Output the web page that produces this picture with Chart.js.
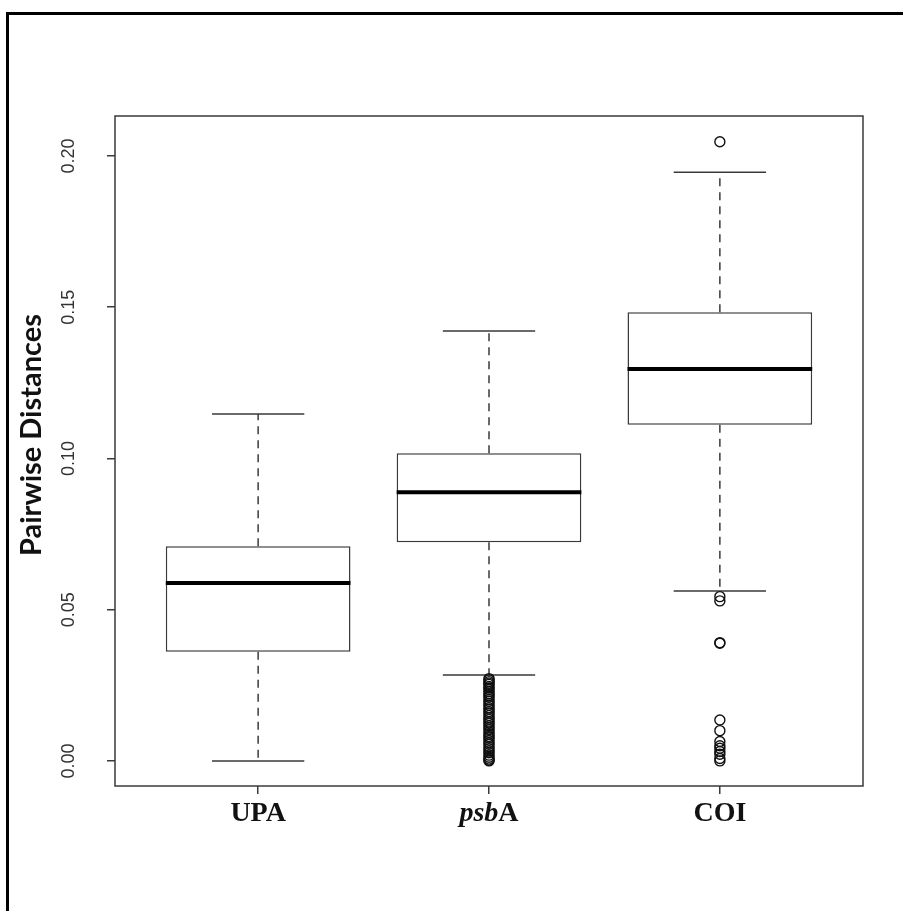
<!DOCTYPE html>
<html>
<head>
<meta charset="utf-8">
<script src="https://cdn.jsdelivr.net/npm/chart.js@4.4.1/dist/chart.umd.min.js"></script>
<style>
html,body{margin:0;padding:0;background:#fff;overflow:hidden;}
#wrap{position:absolute;left:0;top:0;width:903px;height:911px;}
#frame{position:absolute;left:6px;top:12px;width:1000px;height:1000px;border-left:3px solid #000;border-top:3px solid #000;box-sizing:border-box;}
#c{position:absolute;left:0;top:0;}
</style>
</head>
<body>
<div id="wrap"><div id="frame"></div><canvas id="c" width="903" height="911"></canvas></div>
<script>
// ---- data ----
const categories = ['UPA', 'psbA', 'COI'];
const whiskerLow  = [0.0000, 0.0284, 0.0562];
const q1          = [0.0361, 0.0723, 0.1111];
const medians     = [0.0588, 0.0888, 0.1296];
const q3          = [0.0710, 0.1017, 0.1483];
const whiskerHigh = [0.1147, 0.1421, 0.1946];
const upaOutliers  = [];
const psbaOutliers = [0.0272, 0.0268, 0.0262, 0.0257, 0.0253, 0.0246, 0.0241, 0.0236, 0.0229, 0.0222,
                      0.0216, 0.0211, 0.0203, 0.0197, 0.0190, 0.0184, 0.0176, 0.0171, 0.0163, 0.0158,
                      0.0150, 0.0143, 0.0137, 0.0129, 0.0124, 0.0116, 0.0109, 0.0103, 0.0095, 0.0088,
                      0.0081, 0.0076, 0.0068, 0.0061, 0.0055, 0.0047, 0.0040, 0.0033, 0.0027, 0.0019,
                      0.0012, 0.0006, 0.0002, 0.0000];
const coiOutliers  = [0.2047, 0.0543, 0.0529, 0.0391, 0.0389, 0.0135, 0.0100, 0.0064, 0.0050,
                      0.0042, 0.0031, 0.0022, 0.0008, 0.0000];
const yTicks = [0.00, 0.05, 0.10, 0.15, 0.20];
const yTickLabels = ['0.00', '0.05', '0.10', '0.15', '0.20'];
const yTitle = 'Pairwise Distances';

const outlierSets = [upaOutliers, psbaOutliers, coiOutliers];
const boxData = categories.map((c, i) => ({x: i + 1, y: [q1[i], q3[i]]}));
const outlierData = [];
outlierSets.forEach((arr, i) => arr.forEach(v => outlierData.push({x: i + 1, y: v})));

const LINE = '#3a3a3a';

const boxPlugin = {
  id: 'rbox',
  beforeDatasetsDraw(chart) {
    const {ctx, scales: {x, y}} = chart;
    ctx.save();
    ctx.strokeStyle = LINE;
    ctx.lineWidth = 1.5;
    categories.forEach((c, i) => {
      const cx = x.getPixelForValue(i + 1);
      const capL = x.getPixelForValue(i + 1 - 0.2);
      const capR = x.getPixelForValue(i + 1 + 0.2);
      ctx.setLineDash([8, 6]);
      ctx.beginPath();
      ctx.moveTo(cx, y.getPixelForValue(q3[i]));
      ctx.lineTo(cx, y.getPixelForValue(whiskerHigh[i]));
      ctx.moveTo(cx, y.getPixelForValue(q1[i]));
      ctx.lineTo(cx, y.getPixelForValue(whiskerLow[i]));
      ctx.stroke();
      ctx.setLineDash([]);
      ctx.beginPath();
      const yh = y.getPixelForValue(whiskerHigh[i]);
      const yl = y.getPixelForValue(whiskerLow[i]);
      ctx.moveTo(capL, yh); ctx.lineTo(capR, yh);
      ctx.moveTo(capL, yl); ctx.lineTo(capR, yl);
      ctx.stroke();
    });
    ctx.restore();
  },
  afterDatasetsDraw(chart) {
    const {ctx, scales: {x, y}} = chart;
    ctx.save();
    ctx.strokeStyle = '#000';
    ctx.lineWidth = 4;
    const meta = chart.getDatasetMeta(0);
    categories.forEach((c, i) => {
      const bar = meta.data[i];
      const half = bar.width / 2;
      const ym = y.getPixelForValue(medians[i]);
      ctx.beginPath();
      ctx.moveTo(bar.x - half, ym);
      ctx.lineTo(bar.x + half, ym);
      ctx.stroke();
    });
    ctx.restore();
  },
  afterDraw(chart) {
    const {ctx, chartArea, scales: {x, y}} = chart;
    ctx.save();
    ctx.strokeStyle = LINE;
    ctx.lineWidth = 1.5;
    ctx.strokeRect(chartArea.left, chartArea.top, chartArea.right - chartArea.left, chartArea.bottom - chartArea.top);
    ctx.fillStyle = '#111';
    ctx.textBaseline = 'alphabetic';
    const base = chartArea.bottom + 35;
    categories.forEach((c, i) => {
      const cx = x.getPixelForValue(i + 1);
      if (c === 'psbA') {
        const fi = 'italic bold 28px "Liberation Serif"';
        const fb = 'bold 28px "Liberation Serif"';
        ctx.font = fi; const w1 = ctx.measureText('psb').width;
        ctx.font = fb; const w2 = ctx.measureText('A').width;
        const sx = cx - (w1 + w2) / 2;
        ctx.textAlign = 'left';
        ctx.font = fi; ctx.fillText('psb', sx, base);
        ctx.font = fb; ctx.fillText('A', sx + w1, base);
      } else {
        ctx.font = 'bold 28px "Liberation Serif"';
        ctx.textAlign = 'center';
        ctx.fillText(c, cx, base);
      }
    });
    ctx.font = '18px "Liberation Sans"';
    ctx.fillStyle = '#333';
    ctx.textAlign = 'center';
    ctx.textBaseline = 'middle';
    yTicks.forEach((v, i) => {
      const py = y.getPixelForValue(v);
      ctx.save();
      ctx.translate(chartArea.left - 46, py);
      ctx.rotate(-Math.PI / 2);
      ctx.fillText(yTickLabels[i], 0, 0);
      ctx.restore();
    });
    ctx.font = 'bold 29px Lato';
    ctx.fillStyle = '#111';
    ctx.save();
    ctx.translate(32, 435);
    ctx.rotate(-Math.PI / 2);
    ctx.textBaseline = 'middle';
    ctx.fillText(yTitle, 0, 0);
    ctx.restore();
    ctx.restore();
  }
};

new Chart(document.getElementById('c'), {
  data: {
    datasets: [
      {
        type: 'bar',
        label: 'box',
        data: boxData,
        backgroundColor: '#ffffff',
        borderColor: LINE,
        borderWidth: 1.5,
        borderSkipped: false,
        barPercentage: 1.0,
        categoryPercentage: 0.8,
        order: 2
      },
      {
        type: 'scatter',
        label: 'outliers',
        data: outlierData,
        pointStyle: 'circle',
        pointRadius: 5,
        pointBorderWidth: 1.4,
        pointBorderColor: '#111',
        pointBackgroundColor: 'rgba(0,0,0,0)',
        order: 1
      }
    ]
  },
  options: {
    responsive: false,
    animation: false,
    devicePixelRatio: 1,
    layout: {padding: {top: 116, right: 40, left: 0, bottom: 0}},
    plugins: {legend: {display: false}, tooltip: {enabled: false}, title: {display: false}},
    scales: {
      x: {
        type: 'linear',
        offset: false,
        min: 0.38, max: 3.62,
        afterBuildTicks: s => { s.ticks = categories.map((c, i) => ({value: i + 1})); },
        afterFit: s => { s.height = 125; },
        grid: {display: true, offset: false, drawOnChartArea: false, drawTicks: true, tickLength: 8, color: LINE, lineWidth: 1.5},
        border: {display: false},
        ticks: {display: false}
      },
      y: {
        type: 'linear',
        min: -0.0083, max: 0.2132,
        afterBuildTicks: s => { s.ticks = yTicks.map(v => ({value: v})); },
        afterFit: s => { s.width = 115; },
        grid: {display: true, drawOnChartArea: false, drawTicks: true, tickLength: 8, color: LINE, lineWidth: 1.5},
        border: {display: false},
        ticks: {display: false}
      }
    }
  },
  plugins: [boxPlugin]
});
</script>
</body>
</html>
